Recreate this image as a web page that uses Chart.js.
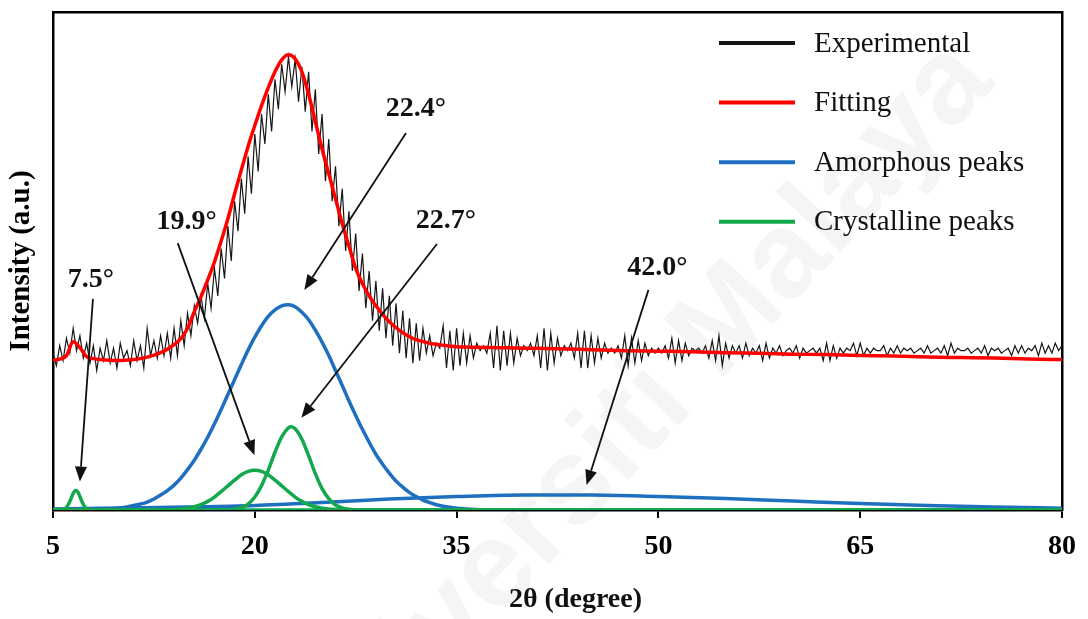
<!DOCTYPE html>
<html>
<head>
<meta charset="utf-8">
<script src="https://cdn.jsdelivr.net/npm/chart.js@4.4.1/dist/chart.umd.min.js"></script>
<style>
  html, body { margin: 0; padding: 0; background: #fff; }
  #wrap { width: 1088px; height: 619px; }
</style>
</head>
<body>
<div id="wrap"><canvas id="xrd" width="1088" height="619"></canvas></div>
<script>
const xTicks = [5, 20, 35, 50, 65, 80];

// Experimental: barrido de 5° a 80° cada 0.25°
const expStart = 5, expStep = 0.25;
const expY = [
  31.5, 29.0, 33.0, 30.0,  34.5, 31.5, 36.5, 32.0,  35.0, 30.5, 33.5, 29.5,
  33.0, 28.0, 32.5, 30.0,  34.0, 29.5, 32.5, 28.5,  33.5, 30.5, 32.0, 29.0,
  34.0, 30.0, 33.0, 28.5,  36.5, 31.0, 34.0, 30.5,  35.0, 31.0, 35.5, 30.5,
  36.5, 31.0, 38.0, 33.0,  39.5, 35.0, 41.0, 37.5,  43.0, 38.5, 45.5, 40.5,
  48.5, 43.0, 52.5, 46.5,  57.0, 50.0, 62.0, 56.0,  66.5, 59.5, 71.0, 63.5,
  75.5, 68.0, 79.5, 73.5,  83.5, 76.0, 86.5, 80.5,  89.5, 84.0, 91.0, 85.0,
  90.5, 82.0, 89.0, 80.0,  88.0, 76.0, 84.5, 71.5,  79.5, 66.0, 74.5, 62.0,
  69.0, 57.0, 64.5, 52.0,  60.0, 48.0, 55.5, 44.0,  51.5, 40.5, 48.0, 38.0,
  46.0, 36.0, 44.5, 34.5,  43.0, 33.0, 41.5, 31.5,  40.0, 30.5, 38.5, 29.5,
  37.5, 30.0, 36.5, 31.5,  35.0, 31.0, 33.5, 32.5,  37.0, 28.5, 36.0, 28.0,
  36.5, 29.0, 35.5, 29.5,  35.0, 30.5, 33.5, 32.0,  33.0, 31.5, 35.5, 28.5,
  37.0, 28.0, 36.0, 29.0,  35.5, 29.5, 34.5, 31.0,  33.0, 32.0, 33.5, 31.0,
  35.0, 28.5, 36.5, 28.0,  35.5, 29.5, 34.5, 31.0,  33.0, 32.0, 33.5, 30.5,
  35.5, 28.5, 36.0, 28.5,  35.0, 29.5, 34.5, 30.5,  33.5, 31.5, 32.5, 31.5,
  33.0, 30.5, 35.0, 29.0,  34.5, 29.5, 34.0, 30.0,  33.5, 31.0, 32.5, 31.5,
  32.5, 31.5, 33.0, 30.5,  34.5, 29.5, 34.0, 30.0,  33.5, 31.0, 32.5, 32.0,
  32.5, 31.5, 33.0, 30.5,  34.0, 30.0, 35.0, 29.0,  33.5, 30.5, 33.0, 31.5,
  33.0, 30.5, 33.5, 31.0,  32.5, 31.5, 33.0, 30.0,  33.5, 30.5, 32.5, 31.5,
  33.0, 31.0, 32.0, 32.5,  31.5, 33.0, 30.5, 32.5,  31.5, 32.0, 32.5, 31.5,
  32.5, 30.0, 33.5, 30.0,  33.0, 30.5, 32.5, 31.5,  32.5, 32.0, 33.5, 31.0,
  33.5, 31.0, 32.5, 31.5,  32.5, 32.0, 32.0, 33.0,  31.0, 32.5, 31.5, 33.0,
  31.5, 32.5, 32.0, 32.5,  31.5, 32.0, 32.5, 31.5,  33.0, 31.5, 32.0, 32.5,
  31.5, 33.0, 31.0, 33.5,  31.5, 32.5, 32.0, 32.0,  32.5, 31.5, 32.0, 32.5,
  31.5, 33.0, 31.0, 32.5,  32.0, 32.5, 31.5, 32.0,  32.5, 31.0, 33.0, 31.5,
  33.0, 31.5, 32.5, 32.0,  33.0, 31.0, 33.5, 31.5,  33.0, 31.5, 33.5, 32.0,
  33.0
];

// Ajuste (curva roja)
const fitX = [5, 5.5, 6, 6.5, 7, 7.5, 8, 8.5, 9, 9.5, 10, 10.5, 11, 11.5, 12, 12.5, 13, 13.5, 14, 14.5,
  15, 15.5, 16, 16.5, 17, 17.5, 18, 18.5, 19, 19.5, 20, 20.5, 21, 21.5, 22, 22.5, 23, 23.5, 24, 24.5,
  25, 25.5, 26, 26.5, 27, 27.5, 28, 28.5, 29, 29.5, 30, 30.5, 31, 31.5, 32, 33, 34, 35, 36, 38, 40,
  42.5, 45, 47.5, 50, 52.5, 55, 57.5, 60, 62.5, 65, 67.5, 70, 72.5, 75, 77.5, 80];
const fitY = [30.1, 30.3, 31.0, 33.8, 32.6, 30.8, 30.4, 30.2, 30.1, 30.0, 30.0, 30.1, 30.2, 30.4, 30.7, 31.1, 31.6, 32.3, 33.2, 34.4,
  36.5, 39.8, 42.8, 46.2, 49.8, 54.0, 58.5, 63.5, 68.3, 73.0, 77.2, 81.2, 84.8, 88.0, 90.4, 91.4, 90.6, 88.0, 83.5, 78.0,
  72.5, 67.5, 62.5, 57.5, 53.0, 48.5, 45.5, 43.0, 41.0, 39.3, 37.8, 36.6, 35.6, 34.8, 34.2, 33.5, 33.1, 32.8, 32.7, 32.6, 32.5,
  32.4, 32.2, 32.0, 31.9, 31.8, 31.6, 31.5, 31.3, 31.2, 31.0, 30.9, 30.7, 30.6, 30.5, 30.3, 30.2];

// Pico amorfo 22.4°
const amorfoX = [5, 8, 10, 10.5, 11, 11.5, 12, 12.5, 13, 13.5, 14, 14.5, 15, 15.5, 16, 16.5, 17, 17.5, 18, 18.5,
  19, 19.5, 20, 20.5, 21, 21.5, 22, 22.5, 23, 23.5, 24, 24.5, 25, 25.5, 26, 26.5, 27, 27.5, 28, 28.5,
  29, 29.5, 30, 30.5, 31, 31.5, 32, 32.5, 33, 33.5, 34, 35, 36, 38, 40];
const amorfoY = [0, 0.05, 0.4, 0.6, 0.9, 1.2, 1.6, 2.2, 3.0, 3.9, 5.0, 6.4, 8.1, 10.0, 12.2, 14.6, 17.3, 20.2, 23.2, 26.2,
  29.2, 32.1, 34.7, 37.0, 38.9, 40.2, 41.0, 41.2, 40.8, 39.7, 38.2, 36.1, 33.7, 31.0, 28.0, 25.0, 21.9, 19.0, 16.2, 13.6,
  11.2, 9.2, 7.4, 5.8, 4.6, 3.5, 2.7, 2.0, 1.5, 1.05, 0.75, 0.36, 0.15, 0.02, 0];

// Pico amorfo ancho 42.0°
const amorfo2X = [5, 10, 15, 20, 25, 30, 35, 40, 42, 45, 50, 55, 60, 65, 70, 75, 80];
const amorfo2Y = [0.2, 0.4, 0.6, 0.9, 1.5, 2.2, 2.7, 3.0, 3.0, 3.0, 2.7, 2.3, 1.8, 1.3, 0.9, 0.6, 0.35];

// Picos cristalinos (7.5°, 19.9°, 22.7°)
const cris1X = [5, 5.8, 6.0, 6.2, 6.4, 6.55, 6.7, 6.85, 7.0, 7.2, 7.4, 7.6, 7.9, 80];
const cris1Y = [0, 0.14, 0.53, 1.4, 2.7, 3.56, 3.9, 3.56, 2.7, 1.4, 0.53, 0.14, 0, 0];
const cris2X = [5, 13, 14, 15, 15.5, 16, 16.5, 17, 17.5, 18, 18.5, 19, 19.5, 20, 20.5, 21, 21.5, 22, 22.5, 23, 23.5, 24, 24.5, 25, 26, 27, 80];
const cris2Y = [0, 0, 0.09, 0.35, 0.64, 1.08, 1.73, 2.6, 3.7, 4.85, 6.0, 7.06, 7.75, 8.0, 7.75, 7.06, 6.0, 4.85, 3.7, 2.6, 1.73, 1.08, 0.64, 0.35, 0.09, 0, 0];
const cris3X = [5, 18, 18.5, 19, 19.5, 20, 20.5, 21, 21.5, 22, 22.5, 22.7, 23, 23.5, 24, 24.5, 25, 25.5, 26, 26.5, 27, 27.5, 28, 80];
const cris3Y = [0, 0.05, 0.18, 0.5, 1.2, 2.6, 4.9, 8.0, 11.6, 14.7, 16.5, 16.7, 16.3, 14.2, 10.9, 7.3, 4.3, 2.3, 1.0, 0.42, 0.15, 0.05, 0, 0];

const seriesNames = ['Experimental', 'Fitting', 'Amorphous peaks', 'Crystalline peaks'];

// ============ ESTILO ============
const COL = { exp: '#161616', fit: '#ff0000', amo: '#1e6fc0', cri: '#14a84c' };
const SERIF = '"Liberation Serif", "Times New Roman", serif';

// anotaciones (en unidades de datos)
const notas = [
  { text: '7.5°',  at: [7.82, 46.2],  from: [7.97, 42.4],  to: [7.0, 5.7] },
  { text: '19.9°', at: [14.93, 57.8], from: [14.27, 53.6], to: [19.97, 11.0] },
  { text: '22.4°', at: [31.98, 80.5], from: [31.24, 75.7], to: [23.68, 44.2] },
  { text: '22.7°', at: [34.2, 58.0],  from: [33.54, 53.4], to: [23.46, 18.5] },
  { text: '42.0°', at: [49.92, 48.6], from: [49.26, 44.2], to: [44.66, 5.0] },
];

const pts = (xs, ys) => xs.map((x, i) => ({ x, y: ys[i] }));
const expPts = expY.map((y, i) => ({ x: expStart + i * expStep, y }));

function linea(data, color, width, order, extra = {}) {
  return { data, borderColor: color, borderWidth: width, pointRadius: 0, fill: false, order, ...extra };
}

const datasets = [
  linea(pts(fitX, fitY), COL.fit, 3.5, 0, { label: seriesNames[1], cubicInterpolationMode: 'monotone' }),
  linea(expPts, COL.exp, 1.2, 1, { label: seriesNames[0], tension: 0 }),
  linea(pts(cris1X, cris1Y), COL.cri, 3.5, 2, { label: seriesNames[3], cubicInterpolationMode: 'monotone' }),
  linea(pts(cris2X, cris2Y), COL.cri, 3.5, 2, { cubicInterpolationMode: 'monotone' }),
  linea(pts(cris3X, cris3Y), COL.cri, 3.5, 2, { cubicInterpolationMode: 'monotone' }),
  linea(pts(amorfoX, amorfoY), COL.amo, 3.5, 3, { label: seriesNames[2], cubicInterpolationMode: 'monotone' }),
  linea(pts(amorfo2X, amorfo2Y), COL.amo, 3.5, 3, { cubicInterpolationMode: 'monotone' }),
];

// ============ PLUGIN: marca de agua, flechas, leyenda, título X ============
function flecha(ctx, x1, y1, x2, y2) {
  const ang = Math.atan2(y2 - y1, x2 - x1), L = 15, W = 6;
  const bx = x2 - L * Math.cos(ang), by = y2 - L * Math.sin(ang);
  ctx.beginPath(); ctx.moveTo(x1, y1); ctx.lineTo(bx, by); ctx.stroke();
  ctx.beginPath();
  ctx.moveTo(x2, y2);
  ctx.lineTo(bx + W * Math.sin(ang), by - W * Math.cos(ang));
  ctx.lineTo(bx - W * Math.sin(ang), by + W * Math.cos(ang));
  ctx.closePath(); ctx.fill();
}

const overlay = {
  id: 'overlay',
  beforeDatasetsDraw(chart) {
    const { ctx } = chart;
    ctx.save();
    ctx.translate(632, 426);
    ctx.rotate(-47 * Math.PI / 180);
    ctx.font = 'bold 122px "Liberation Sans", Arial, sans-serif';
    ctx.fillStyle = 'rgba(0,0,0,0.04)';
    ctx.textAlign = 'center'; ctx.textBaseline = 'middle';
    ctx.fillText('Universiti Malaya', 0, 0);
    ctx.restore();
  },
  afterDatasetsDraw(chart) {
    const { ctx, chartArea: a, scales: { x, y } } = chart;
    ctx.save();
    // flechas + etiquetas
    ctx.strokeStyle = '#111'; ctx.fillStyle = '#111'; ctx.lineWidth = 1.8;
    notas.forEach(n => {
      flecha(ctx, x.getPixelForValue(n.from[0]), y.getPixelForValue(n.from[1]),
                  x.getPixelForValue(n.to[0]), y.getPixelForValue(n.to[1]));
      ctx.font = 'bold 28px ' + SERIF;
      ctx.textAlign = 'center'; ctx.textBaseline = 'middle';
      ctx.fillText(n.text, x.getPixelForValue(n.at[0]), y.getPixelForValue(n.at[1]));
    });
    // leyenda
    const cols = [COL.exp, COL.fit, COL.amo, COL.cri];
    ctx.font = '29px ' + SERIF;
    ctx.textAlign = 'left'; ctx.textBaseline = 'middle';
    seriesNames.forEach((nm, i) => {
      const yy = a.top + 31 + i * 59.6;
      ctx.strokeStyle = cols[i]; ctx.lineWidth = 4;
      ctx.beginPath(); ctx.moveTo(a.right - 343, yy); ctx.lineTo(a.right - 267, yy); ctx.stroke();
      ctx.fillStyle = '#111';
      ctx.fillText(nm, a.right - 248, yy + 1);
    });
    ctx.restore();
  },
  afterDraw(chart) {
    const { ctx, chartArea: a } = chart;
    ctx.save();
    ctx.font = 'bold 28px ' + SERIF;
    ctx.fillStyle = '#111'; ctx.textAlign = 'center'; ctx.textBaseline = 'middle';
    ctx.fillText('2θ (degree)', (a.left + a.right) / 2 + 18, 600);
    ctx.restore();
  }
};

const negro = '#000';
new Chart(document.getElementById('xrd'), {
  type: 'line',
  data: { datasets },
  options: {
    responsive: false, animation: false, devicePixelRatio: 1,
    layout: { autoPadding: false, padding: { top: 12, right: 17, left: 0, bottom: 0 } },
    plugins: { legend: { display: false }, tooltip: { enabled: false } },
    scales: {
      x: {
        type: 'linear', position: 'bottom', min: 5, max: 80,
        afterBuildTicks: s => { s.ticks = xTicks.map(v => ({ value: v })); },
        afterFit: s => { s.height = 109; },
        grid: { display: true, drawOnChartArea: false, drawTicks: true, tickLength: 8, color: negro, lineWidth: 2 },
        border: { display: true, color: negro, width: 2.5 },
        ticks: { color: negro, padding: 12, maxRotation: 0, font: { family: SERIF, size: 28, weight: 'bold' } },
      },
      y: {
        type: 'linear', position: 'left', min: 0, max: 100,
        afterFit: s => { s.width = 53; },
        grid: { display: false },
        border: { display: true, color: negro, width: 2.5 },
        ticks: { display: false },
        title: { display: true, text: 'Intensity (a.u.)', color: negro, padding: { top: 4, bottom: 0 },
                 font: { family: SERIF, size: 29, weight: 'bold' } },
      },
      xTop: {
        type: 'linear', position: 'top', min: 5, max: 80,
        afterFit: s => { s.height = 0; },
        grid: { display: false }, ticks: { display: false },
        border: { display: true, color: negro, width: 2.5 },
      },
      yRight: {
        type: 'linear', position: 'right', min: 0, max: 100,
        afterFit: s => { s.width = 0; },
        grid: { display: false }, ticks: { display: false },
        border: { display: true, color: negro, width: 2.5 },
      },
    },
  },
  plugins: [overlay],
});
</script>
</body>
</html>
